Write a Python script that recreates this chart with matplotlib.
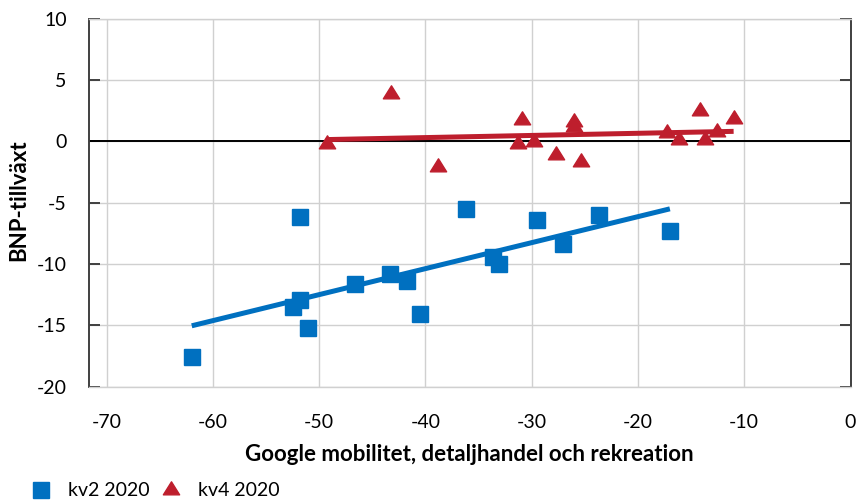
import matplotlib
matplotlib.use("Agg")
import matplotlib.pyplot as plt
from matplotlib.path import Path
import numpy as np

plt.rcParams['font.family'] = ['Lato', 'DejaVu Sans']
plt.rcParams['axes.unicode_minus'] = False

# Data
kv2_x = [-62.0, -51.8, -52.5, -51.8, -51.1, -46.6, -43.3, -41.7, -40.5, -36.2,
         -33.6, -33.1, -29.5, -27.1, -23.7, -17.0]
kv2_y = [-17.6, -6.2, -13.5, -12.9, -15.2, -11.6, -10.8, -11.4, -14.1, -5.5,
         -9.4, -10.0, -6.4, -8.4, -6.0, -7.3]
kv4_x = [-49.3, -43.2, -38.8, -30.9, -31.3, -29.8, -27.7, -26.0, -26.0, -25.4,
         -17.3, -16.1, -14.2, -13.7, -12.6, -11.0]
kv4_y = [-0.25, 3.85, -2.05, 1.75, -0.25, -0.05, -1.15, 1.55, 1.15, -1.65,
         0.65, 0.15, 2.45, 0.15, 0.75, 1.85]
series_labels = ["kv2 2020", "kv4 2020"]
x_ticks = [-70, -60, -50, -40, -30, -20, -10, 0]
y_ticks = [-20, -15, -10, -5, 0, 5, 10]
x_label = "Google mobilitet, detaljhandel och rekreation"
y_label = "BNP-tillväxt"

blue = '#0070C0'
red = '#BE1E2D'

fig = plt.figure(figsize=(8.59, 5.01), dpi=100)
ax = fig.add_axes([89/859, 1-386.7/501, (850.5-89)/859, (386.7-18.7)/501])

# triangle centred on its centroid
tri = Path([(-1.0, -0.533), (1.0, -0.533), (0.0, 1.067), (-1.0, -0.533)],
           [Path.MOVETO, Path.LINETO, Path.LINETO, Path.CLOSEPOLY])

ax.plot(kv2_x, kv2_y, linestyle='none', marker='s', markersize=11,
        color=blue, markeredgecolor=blue, label=series_labels[0], zorder=3)
ax.plot(kv4_x, kv4_y, linestyle='none', marker=tri, markersize=12.5,
        color=red, markeredgecolor=red, label=series_labels[1], zorder=3)

for xs, ys, c in ((kv2_x, kv2_y, blue), (kv4_x, kv4_y, red)):
    xs = np.asarray(xs); ys = np.asarray(ys)
    k, m = np.polyfit(xs, ys, 1)
    xx = np.array([xs.min(), xs.max()])
    ax.plot(xx, k*xx + m, color=c, linewidth=3.6, solid_capstyle='butt', zorder=4)

ax.axhline(0, color='black', linewidth=1.4, zorder=2)

ax.set_xlim(-71.67, 0)
ax.set_ylim(-20, 10)
ax.set_xticks(x_ticks)
ax.set_yticks(y_ticks)
ax.grid(True, color='#D0D0D0', linewidth=1.0, zorder=0)
ax.set_axisbelow(True)

for s in ('top', 'bottom'):
    ax.spines[s].set_color('#D0D0D0')
    ax.spines[s].set_linewidth(1.0)
for s in ('left', 'right'):
    ax.spines[s].set_color('#404040')
    ax.spines[s].set_linewidth(1.4)

ax.tick_params(axis='x', length=0, pad=20, labelsize=14)
ax.tick_params(axis='y', direction='in', length=8, width=1.4, color='#404040',
               pad=16, labelsize=14, right=True, labelright=False)

ax.set_xlabel(x_label, fontsize=16, fontweight='bold')
ax.xaxis.set_label_coords(0.5, -0.156)
ax.set_ylabel(y_label, fontsize=16, fontweight='bold')
ax.yaxis.set_label_coords(-0.079, 0.507)

fig.legend(loc='center left', bbox_to_anchor=(31/859, 1-491/501), ncol=2,
           frameon=False, fontsize=14, borderpad=0, handlelength=1.0,
           handletextpad=0.9, columnspacing=0.6, borderaxespad=0)

fig.savefig('out.png', dpi=100)
